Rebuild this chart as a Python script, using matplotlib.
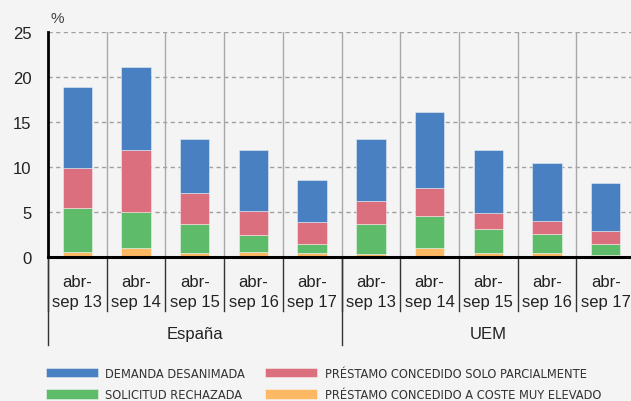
import numpy as np
import matplotlib
matplotlib.use('Agg')
import matplotlib.pyplot as plt
from matplotlib import font_manager
import matplotlib.transforms as mtransforms

# Datos (%)
periodos = ['abr-\nsep 13', 'abr-\nsep 14', 'abr-\nsep 15', 'abr-\nsep 16', 'abr-\nsep 17'] * 2
grupos = ['España', 'UEM']
coste_elevado = [0.6, 1.0, 0.4, 0.55, 0.4, 0.3, 0.95, 0.5, 0.45, 0.2]
rechazada = [4.9, 4.0, 3.3, 1.95, 1.05, 3.4, 3.6, 2.6, 2.1, 1.3]
parcial = [4.4, 6.9, 3.4, 2.6, 2.4, 2.55, 3.15, 1.8, 1.5, 1.4]
desanimada = [9.0, 9.2, 6.0, 6.75, 4.75, 6.85, 8.45, 6.95, 6.4, 5.35]

etiquetas = ['DEMANDA DESANIMADA', 'SOLICITUD RECHAZADA',
             'PRÉSTAMO CONCEDIDO SOLO PARCIALMENTE', 'PRÉSTAMO CONCEDIDO A COSTE MUY ELEVADO']
colores = {'desanimada': '#4880C2', 'rechazada': '#5DBB6A',
           'parcial': '#DC6F7E', 'coste': '#FDB863'}

disponibles = {f.name for f in font_manager.fontManager.ttflist}
fuente = 'Liberation Sans' if 'Liberation Sans' in disponibles else 'DejaVu Sans'
plt.rcParams['font.family'] = fuente
# la leyenda usa una letra estrecha
prop_leyenda = font_manager.FontProperties(family='DejaVu Sans', stretch='condensed', size=9.2)

fondo = '#F4F4F4'
fig = plt.figure(figsize=(6.31, 4.02), dpi=100, facecolor=fondo)
ax = fig.add_axes([48 / 631, 144 / 402, 587 / 631, 225 / 402], facecolor=fondo)

x = np.arange(len(periodos))
ancho = 0.5
borde = dict(edgecolor=(1, 1, 1, 0.5), linewidth=0.6)
b_coste = ax.bar(x, coste_elevado, ancho, color=colores['coste'], **borde)
base = np.array(coste_elevado)
b_rech = ax.bar(x, rechazada, ancho, bottom=base, color=colores['rechazada'], **borde)
base = base + np.array(rechazada)
b_parc = ax.bar(x, parcial, ancho, bottom=base, color=colores['parcial'], **borde)
base = base + np.array(parcial)
b_desa = ax.bar(x, desanimada, ancho, bottom=base, color=colores['desanimada'], **borde)

ax.set_xlim(-0.5, len(periodos) - 0.5)
ax.set_ylim(0, 25)
ax.set_yticks([0, 5, 10, 15, 20, 25])
ax.tick_params(axis='y', length=0, labelsize=12, pad=12, labelcolor='#222222')
ax.set_xticks([])

# rejilla
for v in [5, 10, 15, 20, 25]:
    ax.axhline(v, color='#A0A0A0', linestyle=(0, (3, 2.5)), linewidth=1, zorder=0)
for s in np.arange(0.5, len(periodos) - 0.5, 1):
    ax.axvline(s, color='#A8A8A8', linewidth=1, zorder=0)

for lado in ['top', 'right']:
    ax.spines[lado].set_visible(False)
ax.spines['left'].set_linewidth(2)
ax.spines['bottom'].set_linewidth(2.2)
ax.spines['bottom'].set_zorder(5)

trans = mtransforms.blended_transform_factory(ax.transData, ax.transAxes)
ax.text(-0.5 + 0.05, 1.03, '%', transform=trans, fontsize=11, color='#444444',
        ha='left', va='bottom')

# etiquetas del eje x
for i, p in enumerate(periodos):
    ax.text(i, -0.074, p, transform=trans, ha='center', va='top', fontsize=12,
            linespacing=1.42, color='#222222')
for s in np.arange(-0.5, len(periodos), 1):
    ax.plot([s, s], [0, -0.24], transform=trans, color='#333333', linewidth=1, clip_on=False)
for s in [-0.5, 4.5, 9.5]:
    ax.plot([s, s], [0, -0.39], transform=trans, color='#333333', linewidth=1, clip_on=False)
for j, g in enumerate(grupos):
    ax.text(2 + 5 * j, -0.34, g, transform=trans, ha='center', va='center', fontsize=12,
            color='#222222')

ley = fig.legend([b_desa, b_rech, b_parc, b_coste], etiquetas, ncol=2,
                 loc='upper left', bbox_to_anchor=(46 / 631, 1 - 368 / 402),
                 frameon=False, prop=prop_leyenda, borderaxespad=0, borderpad=0,
                 handlelength=4.05, handleheight=0.75, handletextpad=0.6,
                 columnspacing=1.55, labelspacing=0.65)
for t in ley.get_texts():
    t.set_color('#333333')

fig.savefig('out.png', dpi=100, facecolor=fondo)
